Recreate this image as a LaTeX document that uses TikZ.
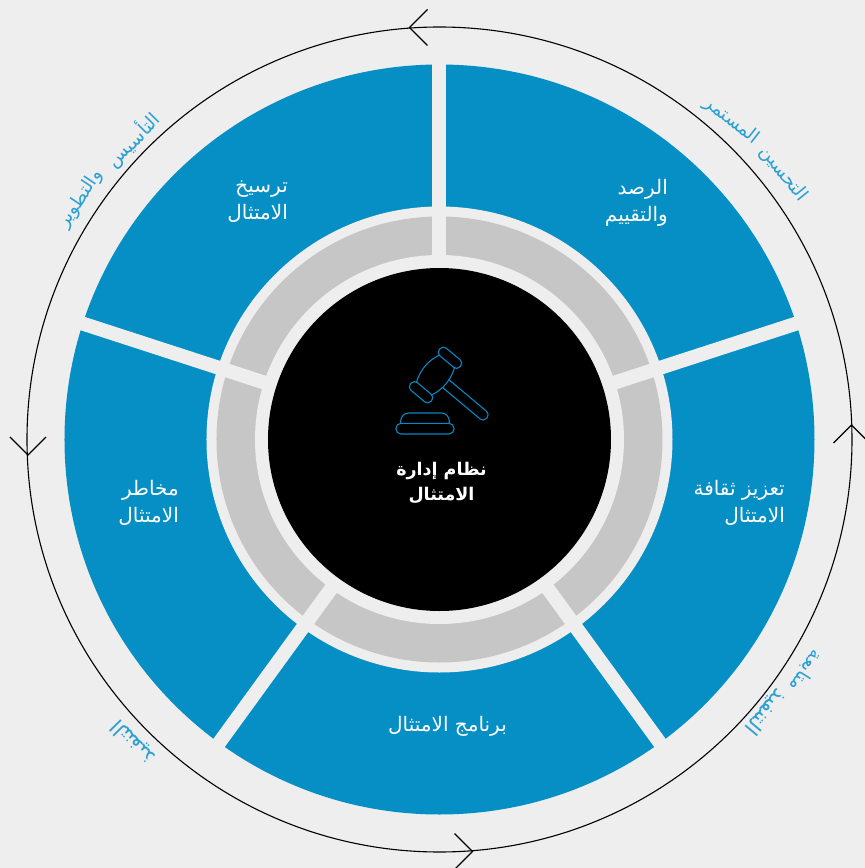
\documentclass[tikz,border=0pt]{standalone}
\usepackage{fontspec}
\TeXXeTstate=1
\newfontfamily\arabicfont[Script=Arabic]{DejaVu Sans}
\newcommand{\artxt}[1]{\beginR #1\endR}
\definecolor{pagebg}{HTML}{EEEEEE}
\definecolor{segblue}{HTML}{068FC5}
\definecolor{ringgrey}{HTML}{C6C6C6}
\definecolor{arclabel}{HTML}{2BA0D3}
\definecolor{iconblue}{HTML}{0B87C0}
\tikzset{
  seglabel/.style={text=white,font=\arabicfont\fontsize{20}{27}\selectfont,align=right,inner sep=0pt},
  arcword/.style={text=arclabel,font=\arabicfont\fontsize{18.5}{20}\selectfont,inner sep=0pt},
  arcwordbig/.style={arcword,font=\arabicfont\fontsize{21}{22}\selectfont},
  chevron/.style={draw=black,line width=1.1pt,line join=miter},
  gavel/.style={draw=iconblue,line width=1.1pt,line join=round},
  sep/.style={draw=pagebg,line width=14pt}
}
\begin{document}
\begin{tikzpicture}[x=1pt,y=1pt]
\fill[pagebg] (-439.5,-428.5) rectangle (425.5,439.5);
\useasboundingbox (-439.5,-428.5) rectangle (425.5,439.5);
% outer ring
\draw[black,line width=1.1pt] (0,0) circle[radius=412.5];
% chevrons
\coordinate (chevT) at (-30,412);
\coordinate (chevL) at (-411.5,-15.5);
\coordinate (chevB) at (33,-412);
\coordinate (chevR) at (412,14.5);
\draw[chevron] ([shift={(18,18)}]chevT) -- (chevT) -- ([shift={(18,-18)}]chevT);
\draw[chevron] ([shift={(-18,18)}]chevL) -- (chevL) -- ([shift={(18,18)}]chevL);
\draw[chevron] ([shift={(-18,18)}]chevB) -- (chevB) -- ([shift={(-18,-18)}]chevB);
\draw[chevron] ([shift={(-18,-18)}]chevR) -- (chevR) -- ([shift={(18,-18)}]chevR);
% rings
\fill[segblue] (0,0) circle[radius=375];
\fill[pagebg] (0,0) circle[radius=233];
\fill[ringgrey] (0,0) circle[radius=223];
\fill[pagebg] (0,0) circle[radius=184.5];
% separators
\foreach \a in {90,18,-54,-126,162}
  \draw[sep] (\a:180) -- (\a:380);
\fill[black] (0,0) circle[radius=171.5];
% gavel
\begin{scope}[shift={(-4,64.5)},rotate=50]
  \draw[gavel,rounded corners=4.5pt] (17.5,-13.5) rectangle (27.5,13.5);
  \draw[gavel,rounded corners=4.5pt] (-27.5,-13.5) rectangle (-17.5,13.5);
  \draw[gavel] (-17.5,10) .. controls (-6,15) and (6,15) .. (17.5,10);
  \draw[gavel] (-17.5,-10) .. controls (-6,-15) and (6,-15) .. (17.5,-10);
  \draw[gavel,rounded corners=4.5pt] (-5,-13) -- (-5,-67) -- (5,-67) -- (5,-13);
\end{scope}
\draw[gavel,rounded corners=8pt] (-38.8,16.2) -- (-38.8,26.5) -- (9.8,26.5) -- (9.8,16.2);
\draw[gavel,rounded corners=5pt] (-43.5,16.2) rectangle (14.5,5.5);
% centre title
\node[text=white,font=\arabicfont\bfseries\fontsize{17.5}{25}\selectfont,align=center,inner sep=0pt] (title) at (2,-43) {\artxt{نظام إدارة}\\\artxt{الامتثال}};
% segment labels
\node[seglabel,anchor=east] (seg1) at (228.5,237) {\artxt{الرصد}\\\artxt{والتقييم}};
\node[seglabel,anchor=east] (seg2) at (345.5,-63) {\artxt{تعزيز ثقافة}\\\artxt{الامتثال}};
\node[seglabel] (seg3) at (8,-286.5) {\artxt{برنامج الامتثال}};
\node[seglabel,anchor=east] (seg4) at (-260.5,-63) {\artxt{مخاطر}\\\artxt{الامتثال}};
\node[seglabel,anchor=east] (seg5) at (-151.5,238) {\artxt{ترسيخ}\\\artxt{الامتثال}};
% arc labels
\node[arcword,rotate=-51] (arcA1) at (344,265.5) {\artxt{التحسين}};
\node[arcword,rotate=-38] (arcA2) at (292,318.5) {\artxt{المستمر}};
\node[arcword,rotate=45.6] (arcB1) at (-306.5,299.5) {\artxt{التأسيس}};
\node[arcword,rotate=56] (arcB2) at (-359,240.5) {\artxt{والتطوير}};
\node[arcwordbig,rotate=134.6] (arcC) at (-306.5,-302.5) {\artxt{التنفيذ}};
\node[arcword,rotate=-122] (arcD1) at (366.5,-231.5) {\artxt{متابعة}};
\node[arcwordbig,rotate=-129.8] (arcD2) at (326.5,-272.5) {\artxt{التنفيذ}};
\end{tikzpicture}
\end{document}
